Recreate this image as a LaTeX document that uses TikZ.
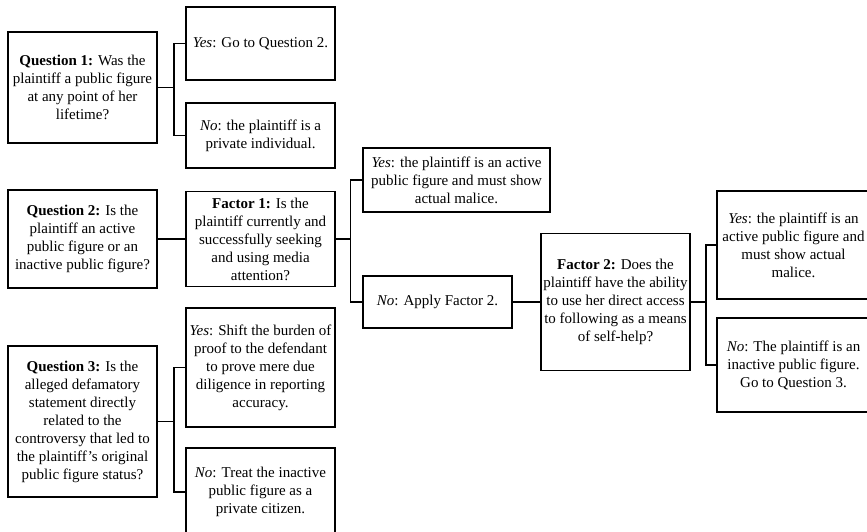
\documentclass[tikz,border=0pt]{standalone}
\usepackage{fontspec}
\setmainfont{Liberation Serif}
\begin{document}
\begin{tikzpicture}[x=1pt,y=-1pt,
  box/.style={draw=black, line width=1.8pt, align=center, inner sep=0pt,
    font=\fontsize{15}{18}\selectfont},
  link/.style={draw=black, line width=1.8pt}]
\useasboundingbox (0,0) rectangle (867,532);
% column 1
\node[box, minimum width=149pt, minimum height=111pt] (q1) at (82.5,87.5)
  {\textbf{Question 1:} Was the\\plaintiff a public figure\\at any point of her\\lifetime?};
\node[box, minimum width=149pt, minimum height=98pt] (q2) at (82.5,239)
  {\textbf{Question 2:} Is the\\plaintiff an active\\public figure or an\\inactive public figure?};
\node[box, minimum width=149pt, minimum height=151pt] (q3) at (82.5,421.5)
  {\textbf{Question 3:} Is the\\alleged defamatory\\statement directly\\related to the\\controversy that led to\\the plaintiff’s original\\public figure status?};
% column 2
\node[box, minimum width=149pt, minimum height=73pt] (y1) at (260.5,43.5)
  {\textit{Yes}: Go to Question 2.};
\node[box, minimum width=149pt, minimum height=65pt] (n1) at (260.5,135.5)
  {\textit{No}: the plaintiff is a\\private individual.};
\node[box, minimum width=149pt, minimum height=95pt] (f1) at (260.5,239)
  {\textbf{Factor 1:} Is the\\plaintiff currently and\\successfully seeking\\and using media\\attention?};
\node[box, minimum width=149pt, minimum height=119pt] (y3) at (260.5,367.5)
  {\textit{Yes}: Shift the burden of\\proof to the defendant\\to prove mere due\\diligence in reporting\\accuracy.};
\node[box, minimum width=149pt, minimum height=88pt] (n3) at (260.5,492)
  {\textit{No}: Treat the inactive\\public figure as a\\private citizen.};
% column 3
\node[box, minimum width=187pt, minimum height=64pt] (yf1) at (456.5,180)
  {\textit{Yes}: the plaintiff is an active\\public figure and must show\\actual malice.};
\node[box, minimum width=149pt, minimum height=52pt] (nf1) at (437.5,302)
  {\textit{No}: Apply Factor 2.};
% column 4
\node[box, minimum width=149pt, minimum height=137pt] (f2) at (615.5,302)
  {\textbf{Factor 2:} Does the\\plaintiff have the ability\\to use her direct access\\to following as a means\\of self-help?};
% column 5
\node[box, minimum width=153pt, minimum height=108pt] (yf2) at (793.5,245)
  {\textit{Yes}: the plaintiff is an\\active public figure and\\must show actual\\malice.};
\node[box, minimum width=153pt, minimum height=94pt] (nf2) at (793.5,365)
  {\textit{No}: The plaintiff is an\\inactive public figure.\\Go to Question 3.};
% connectors
\draw[link] (q1.east) -- ++(16,0) |- (y1.west);
\draw[link] (q1.east) -- ++(16,0) |- (n1.west);
\draw[link] (q2.east) -- (f1.west);
\draw[link] (q3.east) -- ++(16,0) |- (y3.west);
\draw[link] (q3.east) -- ++(16,0) |- (n3.west);
\draw[link] (f1.east) -- ++(14.5,0) |- (yf1.west);
\draw[link] (f1.east) -- ++(14.5,0) |- (nf1.west);
\draw[link] (nf1.east) -- (f2.west);
\draw[link] (f2.east) -- ++(15,0) |- (yf2.west);
\draw[link] (f2.east) -- ++(15,0) |- (nf2.west);
\end{tikzpicture}
\end{document}
